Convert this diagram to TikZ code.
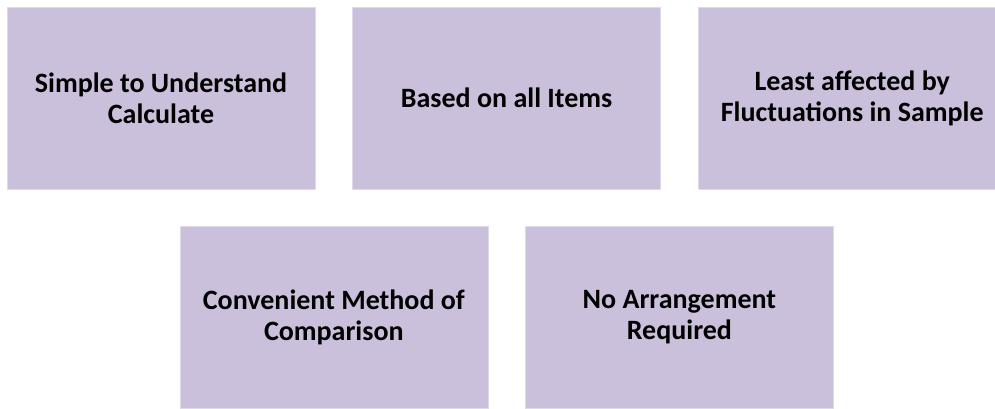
\documentclass[tikz,border=0pt]{standalone}
\usepackage{fontspec}
\setmainfont{Carlito}
\usepackage{tikz}
\usetikzlibrary{positioning}
\definecolor{boxpurple}{HTML}{CBC0DB}
\tikzset{merit/.style={rectangle, fill=boxpurple, draw=boxpurple!60!white, line width=0.6pt,
      minimum width=308pt, minimum height=182pt, inner sep=0pt, align=center,
      font=\fontsize{28}{31}\selectfont\bfseries}}

\begin{document}
\begin{tikzpicture}[x=1pt, y=1pt]
		\useasboundingbox (0,0) rectangle (995,-408);
		\node[merit] (simple) at (161,-98) {Simple to Understand\\Calculate};
		\node[merit, right=37pt of simple] (items) {Based on all Items};
		\node[merit, right=37pt of items] (least) {Least affected by\\Fluctuations in Sample};
		\node[merit, below=37pt of simple.south east, xshift=18.5pt] (convenient) {Convenient Method of\\Comparison};
		\node[merit, right=37pt of convenient] (noarrange) {No Arrangement\\Required};
		\end{tikzpicture}
\end{document}
